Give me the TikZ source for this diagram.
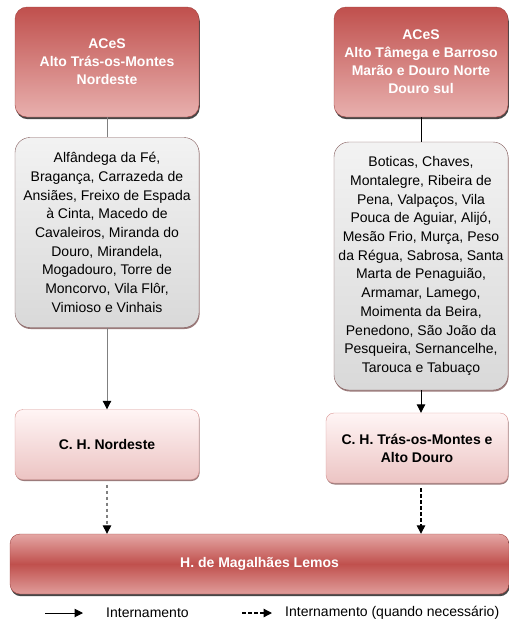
\documentclass[tikz,border=0pt]{standalone}
\usepackage{fontspec}
\setmainfont{Liberation Sans}
\usetikzlibrary{shapes,arrows.meta,shadows}

\definecolor{acesred}{RGB}{192,80,77}
\definecolor{acespink}{RGB}{232,176,174}
\definecolor{munline}{RGB}{130,90,90}
\definecolor{chpink}{RGB}{236,196,195}

\begin{document}
\begin{tikzpicture}[x=1pt,y=-1pt,>={Triangle[length=8.5pt,width=8.5pt,color=black]},
    aces/.style={rounded corners=12pt,top color=acesred,bottom color=acespink,
        draw=acesred!85!black,line width=0.4pt,text=white,align=center,inner sep=0pt,
        font=\fontsize{14}{18}\selectfont\bfseries,
        drop shadow={shadow xshift=0.8pt,shadow yshift=-2.2pt,fill=black!80,opacity=0.9}},
    mun/.style={rounded corners=15pt,top color=gray!10,bottom color=gray!30,
        draw=munline,line width=0.4pt,align=center,inner sep=0pt,
        font=\fontsize{14}{18.7}\selectfont,
        drop shadow={shadow xshift=0.6pt,shadow yshift=-1.5pt,fill=munline,opacity=0.8}},
    chosp/.style={rounded corners=8pt,top color=white!96!red,bottom color=chpink,
        draw=acesred!60,line width=0.4pt,align=center,inner sep=0pt,
        font=\fontsize{14}{18}\selectfont\bfseries,
        drop shadow={shadow xshift=0.6pt,shadow yshift=-1.5pt,fill=munline,opacity=0.8}},
    hosp/.style={rounded corners=10pt,top color=acespink!90!acesred,bottom color=acespink!80!acesred,
        middle color=acesred,draw=acesred!85!black,line width=0.4pt,text=white,inner sep=0pt,
        font=\fontsize{14}{18}\selectfont\bfseries,
        drop shadow={shadow xshift=0.8pt,shadow yshift=-2.2pt,fill=black!80,opacity=0.9}},
    link/.style={->,line width=1pt},
    maybelink/.style={->,line width=1.3pt,dash pattern=on 3.5pt off 2.5pt}]
    \pgfmathsetmacro{\xl}{107}
    \pgfmathsetmacro{\xr}{421}
    \useasboundingbox (0,0) rectangle (509,638);

    % ACeS boxes
    \node [aces,minimum width=184,minimum height=110] (acesL) at (\xl,62)
        {ACeS\\Alto Trás-os-Montes\\Nordeste};
    \node [aces,minimum width=174,minimum height=110] (acesR) at (\xr,62)
        {ACeS\\Alto Tâmega e Barroso\\Marão e Douro Norte\\Douro sul};

    % municipalities
    \node [mun,minimum width=184,minimum height=190] (munL) at (\xl,232.5)
        {Alfândega da Fé,\\Bragança, Carrazeda de\\Ansiães, Freixo de Espada\\à Cinta, Macedo de\\Cavaleiros, Miranda do\\Douro, Mirandela,\\Mogadouro, Torre de\\Moncorvo, Vila Flôr,\\Vimioso e Vinhais};
    \node [mun,minimum width=174,minimum height=248] (munR) at (\xr,266)
        {Boticas, Chaves,\\Montalegre, Ribeira de\\Pena, Valpaços, Vila\\Pouca de Aguiar, Alijó,\\Mesão Frio, Murça, Peso\\da Régua, Sabrosa, Santa\\Marta de Penaguião,\\Armamar, Lamego,\\Moimenta da Beira,\\Penedono, São João da\\Pesqueira, Sernancelhe,\\Tarouca e Tabuaço};

    % hospital centres
    \node [chosp,minimum width=184,minimum height=70] (chL) at (\xl,444.5) {C. H. Nordeste};
    \node [chosp,minimum width=182,minimum height=70] (chR) at (417,448)
        {C. H. Trás-os-Montes e\\Alto Douro};
    \node [hosp,minimum width=499,minimum height=60] (hml) at (259.5,564) {H. de Magalhães Lemos};

    % connectors
    \draw [gray,line width=1pt] (acesL) -- (munL);
    \draw [line width=1pt] (acesR) -- (munR);
    \draw [link,draw=gray] (munL) -- (chL);
    \draw [link] (munR.south) -- (munR.south |- chR.north);
    \draw [maybelink,draw=gray,shorten <=5pt] (chL) -- (hml.north -| chL);
    \draw [maybelink,shorten <=5pt] (munR.south |- chR.south) -- (munR.south |- hml.north);

    % legend
    \coordinate (legA) at (45,613);
    \coordinate (legB) at (83,613);
    \coordinate (legC) at (242,613);
    \coordinate (legD) at (272,613);
    \draw [link] (legA) -- (legB);
    \node [anchor=west,inner sep=0pt,font=\fontsize{14}{16}\selectfont] (legSolid) at (106,613) {Internamento};
    \draw [maybelink] (legC) -- (legD);
    \node [anchor=west,inner sep=0pt,font=\fontsize{14}{16}\selectfont] (legDash) at (285,613)
        {Internamento (quando necessário)};
\end{tikzpicture}
\end{document}
